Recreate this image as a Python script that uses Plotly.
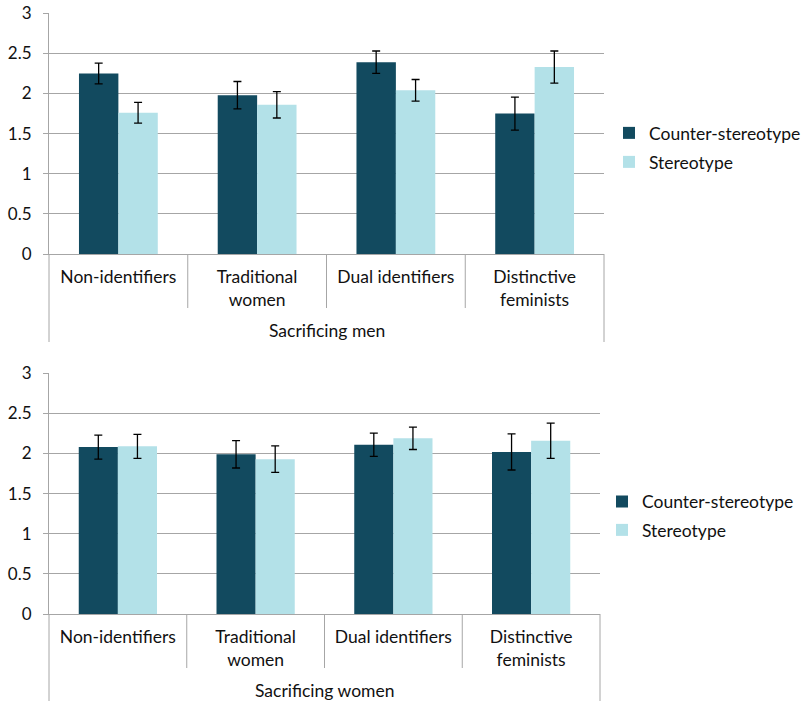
import plotly.graph_objects as go

# ---------------- data ----------------
categories = ["Non-identifiers", "Traditional<br>women", "Dual identifiers", "Distinctive<br>feminists"]
series_names = ["Counter-stereotype", "Stereotype"]
panel_titles = ["Sacrificing men", "Sacrificing women"]

men_counter = [2.25, 1.98, 2.39, 1.75]
men_counter_err = [0.13, 0.17, 0.14, 0.205]
men_stereo = [1.76, 1.86, 2.04, 2.33]
men_stereo_err = [0.13, 0.165, 0.135, 0.20]

women_counter = [2.08, 1.99, 2.11, 2.02]
women_counter_err = [0.15, 0.17, 0.145, 0.225]
women_stereo = [2.09, 1.93, 2.19, 2.16]
women_stereo_err = [0.15, 0.165, 0.14, 0.22]

y_ticks = [0, 0.5, 1, 1.5, 2, 2.5, 3]
y_tick_labels = ["0", "0.5", "1", "1.5", "2", "2.5", "3"]

# ---------------- style ----------------
W, H = 807, 701
DARK = "#124A5F"
LIGHT = "#B3E1E8"
GRID = "#A6A6A6"
FONT = "Lato"
TXT = "#111111"
FS = 17.5


def fx(px):
    return px / W


def fy(py):
    return 1 - py / H


panels = [
    dict(x0=49, x1=604, ytop=13.3, ybot=254, inner_end=308, outer_end=342, title_y=330,
         leg=[(649, 133), (649, 162)],
         data=[(men_counter, men_counter_err), (men_stereo, men_stereo_err)]),
    dict(x0=49, x1=600, ytop=373.3, ybot=614, inner_end=668, outer_end=701, title_y=690,
         leg=[(642, 501.5), (642, 530)],
         data=[(women_counter, women_counter_err), (women_stereo, women_stereo_err)]),
]

fig = go.Figure()
layout = dict(
    width=W, height=H, autosize=False,
    margin=dict(l=0, r=0, t=0, b=0),
    paper_bgcolor="white", plot_bgcolor="white",
    barmode="group", bargap=0.432, bargroupgap=0,
    font=dict(family=FONT, size=FS, color=TXT),
    shapes=[], annotations=[],
)

colors = [DARK, LIGHT]
legend_idx = 0
for p_i, p in enumerate(panels):
    sfx = "" if p_i == 0 else str(p_i + 1)
    xa, ya = "x" + sfx, "y" + sfx
    for s_i, (vals, errs) in enumerate(p["data"]):
        legend_idx += 1
        lname = "legend" if legend_idx == 1 else "legend%d" % legend_idx
        fig.add_trace(go.Bar(
            x=categories, y=vals, name=series_names[s_i],
            marker=dict(color=colors[s_i], line=dict(width=0)),
            error_y=dict(type="data", array=errs, visible=True, color="black",
                         thickness=1.3, width=4),
            xaxis=xa, yaxis=ya, legend=lname, showlegend=True,
            offsetgroup=str(s_i),
        ))
        lx, ly = p["leg"][s_i]
        layout[lname] = dict(
            x=fx(lx - 40), y=fy(ly), xanchor="left", yanchor="middle",
            bgcolor="rgba(0,0,0,0)", borderwidth=0,
            font=dict(family=FONT, size=FS, color=TXT),
            itemwidth=30,
        )

    layout["xaxis" + sfx] = dict(
        domain=[fx(p["x0"]), fx(p["x1"])], anchor=ya, type="category",
        range=[-0.5, 3.5], showgrid=False, zeroline=False,
        showline=True, linecolor=GRID, linewidth=1,
        ticks="", tickfont=dict(family=FONT, size=FS, color=TXT),
        ticklabelstandoff=7, automargin=False, fixedrange=True,
    )
    layout["yaxis" + sfx] = dict(
        domain=[fy(p["ybot"]), fy(p["ytop"])], anchor=xa,
        range=[0, 3], tickvals=y_ticks, ticktext=y_tick_labels,
        showgrid=True, gridcolor=GRID, gridwidth=1, zeroline=False,
        showline=True, linecolor=GRID, linewidth=1,
        ticks="outside", ticklen=5, tickcolor=GRID, tickwidth=1,
        tickfont=dict(family=FONT, size=17, color=TXT),
        ticklabelstandoff=8, automargin=False, fixedrange=True,
    )

    # category dividers below the axis
    d0, d1 = fx(p["x0"]), fx(p["x1"])
    for k in range(5):
        xp = d0 + k / 4 * (d1 - d0)
        yend = p["outer_end"] if k in (0, 4) else p["inner_end"]
        layout["shapes"].append(dict(
            type="line", xref="paper", yref="paper",
            x0=xp, x1=xp, y0=fy(p["ybot"]), y1=fy(yend),
            line=dict(color=GRID, width=1),
        ))
    layout["annotations"].append(dict(
        text=panel_titles[p_i], xref="paper", yref="paper",
        x=(d0 + d1) / 2, y=fy(p["title_y"]), xanchor="center", yanchor="middle",
        showarrow=False, font=dict(family=FONT, size=FS, color=TXT),
    ))

fig.update_layout(**layout)
fig.write_html("out.html")
